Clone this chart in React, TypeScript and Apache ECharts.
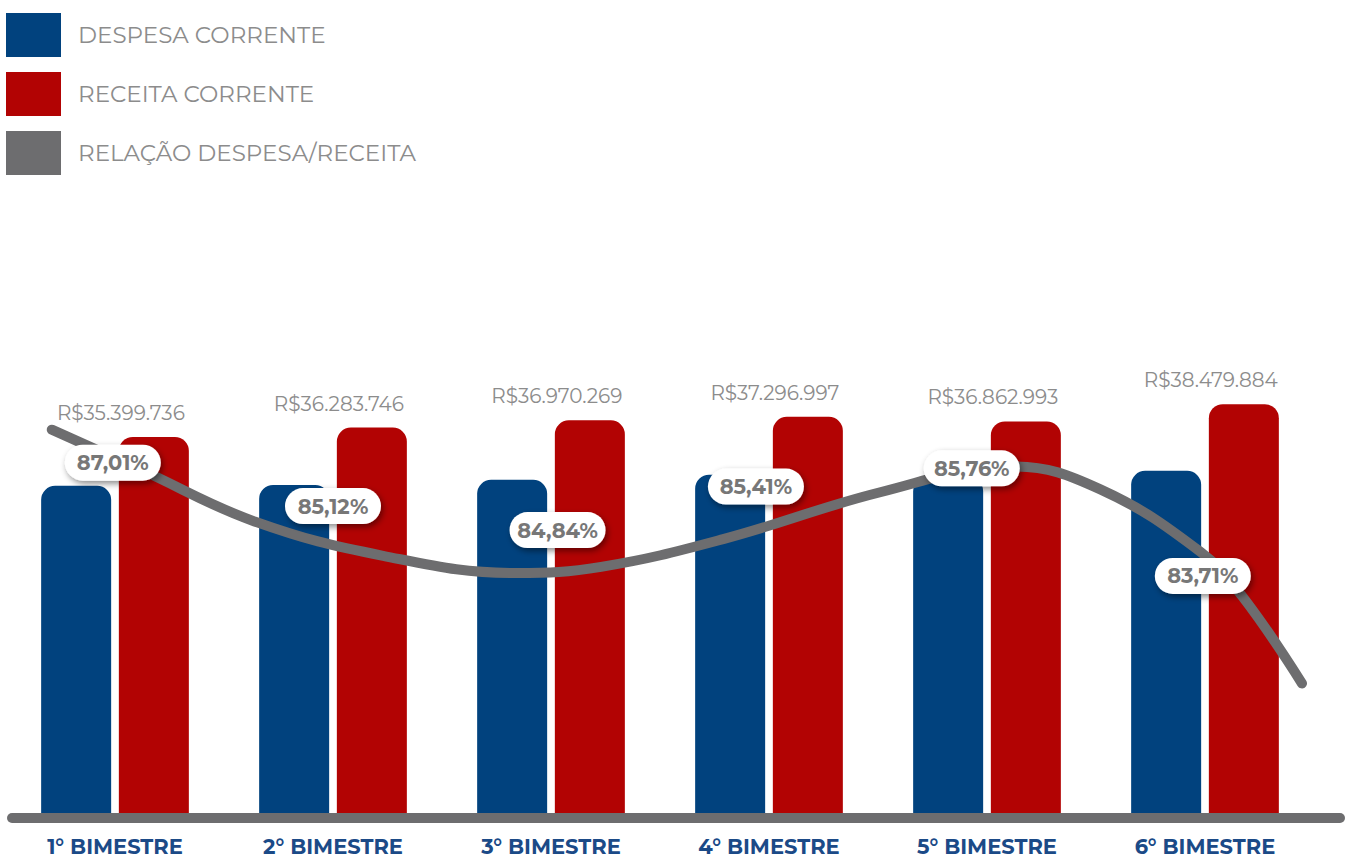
import React, { useEffect, useRef } from "react";
import * as echarts from "echarts";

const categorias = ["1° BIMESTRE", "2° BIMESTRE", "3° BIMESTRE", "4° BIMESTRE", "5° BIMESTRE", "6° BIMESTRE"];
const receita = [35399736, 36283746, 36970269, 37296997, 36862993, 38479884];
const despesa = [30801310, 30884725, 31365576, 31855365, 31613703, 32211511];
const percentual = [87.01, 85.12, 84.84, 85.41, 85.76, 83.71];

// decorative curve (x in category units, y on the hidden % axis)
const curvaX = [-0.29, 0.115, 0.64, 1.23, 1.84, 2.23, 2.79, 3.51, 4.12, 4.52, 4.98, 5.17, 5.445];
const curvaY = [88.02, 87.19, 86.1, 85.38, 85.02, 85.15, 85.73, 86.71, 87.25, 86.77, 85.46, 84.54, 82.71];

// positions of the percentage badges
const rotuloX = [-0.01, 1.0, 2.03, 2.94, 3.93, 4.99];
const rotuloY = [87.33, 86.42, 85.92, 86.83, 87.21, 84.96];

const AZUL = "#01427e";
const VERMELHO = "#b20303";
const CINZA = "#6d6d6f";
const PILULA = "path://M18,0 L78,0 A18,18 0 0 1 78,36 L18,36 A18,18 0 0 1 18,0 Z";

const fmtMoeda = (v: number) => "R$" + String(v).replace(/\B(?=(\d{3})+(?!\d))/g, ".");
const fmtPct = (v: number) => v.toFixed(2).replace(".", ",") + "%";

export default function App() {
  const ref = useRef<HTMLDivElement>(null);
  useEffect(() => {
    if (!ref.current) return;
    const chart = echarts.init(ref.current, undefined, { renderer: "svg" });
    const font = "Montserrat, 'Open Sans', sans-serif";
    chart.setOption({
      animation: false,
      backgroundColor: "#ffffff",
      textStyle: { fontFamily: font },
      legend: {
        orient: "vertical",
        left: 6,
        top: 13,
        padding: 0,
        itemWidth: 55,
        itemHeight: 44,
        itemGap: 15,
        selectedMode: false,
        textStyle: { fontSize: 23, color: "#8c8c8c", fontFamily: font, padding: [0, 0, 0, 12] },
        data: [
          { name: "DESPESA CORRENTE", icon: "rect" },
          { name: "RECEITA CORRENTE", icon: "rect" },
          { name: "RELAÇÃO DESPESA/RECEITA", icon: "rect" },
        ],
      },
      grid: { left: 6, right: 33, top: 335, bottom: 49, containLabel: false },
      xAxis: [
        {
          type: "category",
          data: categorias,
          axisLine: { show: false },
          axisTick: { show: false },
          axisLabel: { color: "#1b4a87", fontWeight: "bold", fontSize: 21, margin: 23, fontFamily: font },
        },
        { type: "value", min: -0.5, max: 5.5, show: false },
      ],
      yAxis: [
        { type: "value", min: 0, max: 45000000, show: false },
        { type: "value", min: 80, max: 90, show: false },
      ],
      series: [
        {
          name: "DESPESA CORRENTE",
          type: "bar",
          data: despesa,
          barWidth: 70,
          barGap: "11%",
          itemStyle: { color: AZUL, borderRadius: [14, 14, 0, 0] },
          z: 2,
        },
        {
          name: "RECEITA CORRENTE",
          type: "bar",
          data: receita,
          barWidth: 70,
          barGap: "11%",
          itemStyle: { color: VERMELHO, borderRadius: [14, 14, 0, 0] },
          label: {
            show: true,
            position: "top",
            distance: 14,
            offset: [-33, 0],
            color: "#8c8c8c",
            fontSize: 20,
            fontFamily: font,
            formatter: (p: any) => fmtMoeda(receita[p.dataIndex]),
          },
          z: 2,
        },
        {
          name: "RELAÇÃO DESPESA/RECEITA",
          type: "line",
          xAxisIndex: 1,
          yAxisIndex: 1,
          data: curvaX.map((x, i) => [x, curvaY[i]]),
          smooth: 0.4,
          symbol: "none",
          color: CINZA,
          lineStyle: { color: CINZA, width: 10, cap: "round" },
          z: 5,
        },
        {
          name: "rotulos",
          type: "scatter",
          xAxisIndex: 1,
          yAxisIndex: 1,
          data: rotuloX.map((x, i) => [x, rotuloY[i]]),
          symbol: PILULA,
          symbolSize: [96, 36],
          symbolKeepAspect: false,
          itemStyle: {
            color: "#ffffff",
            opacity: 1,
            shadowColor: "rgba(0,0,0,0.45)",
            shadowBlur: 6,
            shadowOffsetX: 2,
            shadowOffsetY: 3,
          },
          z: 10,
          label: {
            show: true,
            position: "inside",
            formatter: (p: any) => fmtPct(percentual[p.dataIndex]),
            color: "#777777",
            fontWeight: "bold",
            fontSize: 21,
            fontFamily: font,
          },
        },
      ],
      graphic: [
        {
          type: "line",
          shape: { x1: 12, y1: 818, x2: 1340, y2: 818 },
          style: { stroke: CINZA, lineWidth: 10, lineCap: "round" },
          z: 20,
        },
      ],
    });
    return () => chart.dispose();
  }, []);
  return <div ref={ref} style={{ position: "fixed", left: 0, top: 0, width: 1347, height: 862 }} />;
}
